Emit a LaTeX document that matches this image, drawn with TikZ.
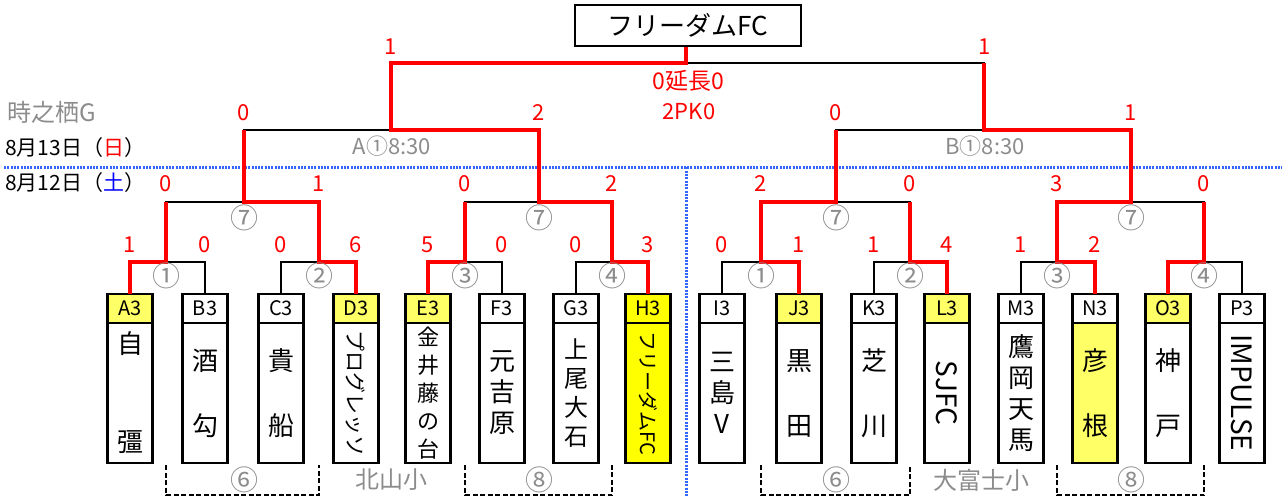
\documentclass[tikz,border=0pt]{standalone}
\usepackage{fontspec}
\setmainfont{Noto Sans CJK JP}
\usetikzlibrary{positioning}
\definecolor{winred}{RGB}{255,0,0}
\definecolor{lightyel}{RGB}{255,255,102}
\definecolor{champyel}{RGB}{255,255,0}
\definecolor{dayblue}{RGB}{51,102,255}
\definecolor{satblue}{RGB}{0,0,255}
\definecolor{numgray}{RGB}{140,140,140}
\newcommand{\sidename}[2]{\rotatebox{-90}{\fontsize{#1}{#1}\selectfont #2}}

\tikzset{
  hdr/.style={draw,line width=2.5pt,outer sep=0pt,inner sep=0pt,
    minimum width=45pt,minimum height=29pt,font=\fontsize{20}{20}\selectfont},
  teambody/.style={draw,line width=2.5pt,outer sep=0pt,inner sep=0pt,align=center,
    minimum width=45pt,minimum height=140pt,font=\fontsize{26}{31}\selectfont},
  bigname/.style={},
  smallname/.style={font=\fontsize{22}{28}\selectfont},
  midname/.style={font=\fontsize{24}{29}\selectfont},
  champbox/.style={draw,line width=2.5pt,minimum width=226pt,minimum height=41pt,
    inner sep=0pt,font=\fontsize{26}{26}\selectfont},
  wire/.style={line width=2.4pt},
  won/.style={draw=winred,line width=4.2pt},
  score/.style={text=winred,inner sep=0pt,font=\fontsize{22}{22}\selectfont},
  rnd/.style={text=numgray,inner sep=0pt,font=\fontsize{28}{28}\selectfont},
  grey label/.style={text=numgray,inner sep=0pt,font=\fontsize{23}{23}\selectfont},
  daysep/.style={draw=dayblue,line width=3pt,dash pattern=on 2pt off 1.3pt},
  groupbr/.style={line width=2.2pt,dash pattern=on 5pt off 2.5pt}
}

\begin{document}
\begin{tikzpicture}[x=1pt,y=-1pt]
\useasboundingbox (0,0) rectangle (1282,497);

% days
\draw[daysep] (4,167.5) -- (1282,167.5);
\draw[daysep] (686,167.5) -- (686,497);
\node[grey label,anchor=west,font=\fontsize{24}{24}\selectfont] (venue) at (7,112) {時之栖G};
\node[anchor=west,inner sep=0pt,font=\fontsize{21}{21}\selectfont] (day2) at (5,147.5) {8月13日（\textcolor{winred}{日}）};
\node[anchor=west,inner sep=0pt,font=\fontsize{21}{21}\selectfont] (day1) at (5,183) {8月12日（\textcolor{satblue}{土}）};

% champion
\node[champbox] (champ) at (688,25.5) {フリーダムFC};

% teams
\foreach \tm/\x/\hc/\bc/\st/\nm in {
  A/130/lightyel/white/bigname/{自\\[67pt]彊},
  B/205/white/white/bigname/{酒\\[34pt]勾},
  C/281/white/white/bigname/{貴\\[34pt]船},
  D/356/lightyel/white/bigname/{\sidename{21}{プログレッソ}},
  E/428/lightyel/white/smallname/{金\\井\\藤\\の\\台},
  F/502/white/white/bigname/{元\\吉\\原},
  G/576/white/white/midname/{上\\尾\\大\\石},
  H/648/champyel/champyel/bigname/{\sidename{20}{フリーダムFC}},
  I/722/white/white/bigname/{三\\島\\V},
  J/799/lightyel/white/bigname/{黒\\[34pt]田},
  K/874/white/white/bigname/{芝\\[34pt]川},
  L/947/lightyel/white/bigname/{\sidename{28}{SJFC}},
  M/1021/white/white/bigname/{鷹\\岡\\天\\馬},
  N/1095/white/lightyel/bigname/{彦\\[34pt]根},
  O/1168/lightyel/white/bigname/{神\\[34pt]戸},
  P/1242/white/white/bigname/{\sidename{28}{IMPULSE}}}
{
  \node[hdr,fill=\hc] (h\tm) at (\x,308.5) {\tm3};
  \node[teambody,\st,fill=\bc,below=0pt of h\tm] (b\tm) {\nm};
}

% junctions
\coordinate (r1a) at (166,262);
\coordinate (r1b) at (319,262);
\coordinate (r1c) at (465,262);
\coordinate (r1d) at (612,262);
\coordinate (r1e) at (761,262);
\coordinate (r1f) at (910,262);
\coordinate (r1g) at (1057,262);
\coordinate (r1h) at (1204,262);
\coordinate (r2a) at (244,202);
\coordinate (r2b) at (539,202);
\coordinate (r2c) at (836,202);
\coordinate (r2d) at (1131,202);
\coordinate (sa) at (391,130);
\coordinate (sb) at (984,130);
\coordinate (fin) at (686,63);

% bracket
\foreach \p/\q/\j in {A/B/r1a,C/D/r1b,E/F/r1c,G/H/r1d,I/J/r1e,K/L/r1f,M/N/r1g,O/P/r1h}
  \draw[wire] (h\p.north) |- (\j) -| (h\q.north);
\foreach \p/\q/\j in {r1a/r1b/r2a,r1c/r1d/r2b,r1e/r1f/r2c,r1g/r1h/r2d}
  \draw[wire] (\p) |- (\j) -| (\q);
\draw[wire] (r2a) |- (sa) -| (r2b);
\draw[wire] (r2c) |- (sb) -| (r2d);
\draw[wire] (sa) |- (fin) -| (sb);

% winners
\draw[won] (hA.north) |- (r1a) -- (r1a |- r2a);
\draw[won] (hD.north) |- (r1b) |- (r2a) -- (r2a |- sa);
\draw[won] (hE.north) |- (r1c) -- (r1c |- r2b);
\draw[won] (hH.north) |- (r1d) |- (r2b) |- (sa) |- (fin) -- (fin |- champ.south);
\draw[won] (hJ.north) |- (r1e) |- (r2c) -- (r2c |- sb);
\draw[won] (hL.north) |- (r1f) -- (r1f |- r2c);
\draw[won] (hN.north) |- (r1g) |- (r2d) |- (sb) -- (sb |- fin);
\draw[won] (hO.north) |- (r1h) -- (r1h |- r2d);

% scores
\foreach \x/\v [count=\i] in {130/1,205/0,281/0,356/6,428/5,502/0,576/0,648/3,722/0,799/1,874/1,947/4,1021/1,1095/2}
  \node[score] (sc1-\i) at (\x,245) {\v};
\foreach \x/\v [count=\i] in {166/0,319/1,465/0,612/2,761/2,910/0,1057/3,1204/0}
  \node[score] (sc2-\i) at (\x,184) {\v};
\foreach \x/\v [count=\i] in {244/0,539/2,836/0,1131/1}
  \node[score] (sc3-\i) at (\x,113) {\v};
\node[score] (scfa) at (391,47) {1};
\node[score] (scfb) at (985,47) {1};
\node[score,font=\fontsize{23}{23}\selectfont] (extra) at (688,80.5) {0延長0};
\node[score] (pk) at (689,112) {2PK0};

% match numbers
\foreach \x/\m [count=\i] in {166/①,319/②,465/③,612/④,761/①,910/②,1057/③,1204/④}
  \node[rnd] (m1-\i) at (\x,276) {\m};
\foreach \x [count=\i] in {244,539,836,1131}
  \node[rnd] (m2-\i) at (\x,218) {⑦};
\node[grey label,font=\fontsize{22}{22}\selectfont] (semia) at (392,146) {A①8:30};
\node[grey label,font=\fontsize{22}{22}\selectfont] (semib) at (985,146) {B①8:30};

% second day groups
\draw[groupbr] (166,465) -- (166,495) -- (319,495) -- (319,465);
\draw[groupbr] (465,465) -- (465,495) -- (612,495) -- (612,465);
\draw[groupbr] (761,465) -- (761,495) -- (910,495) -- (910,465);
\draw[groupbr] (1057,465) -- (1057,495) -- (1204,495) -- (1204,465);
\node[rnd] (g6a) at (244,480) {⑥};
\node[rnd] (g8a) at (539,480) {⑧};
\node[rnd] (g6b) at (836,480) {⑥};
\node[rnd] (g8b) at (1131,480) {⑧};
\node[grey label,font=\fontsize{24}{24}\selectfont] (sitea) at (391,480) {北山小};
\node[grey label,font=\fontsize{24}{24}\selectfont] (siteb) at (981,480) {大富士小};
\end{tikzpicture}
\end{document}
